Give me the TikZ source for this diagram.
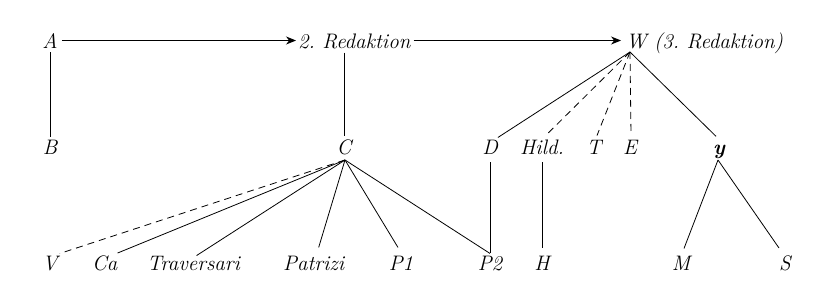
\documentclass[tikz,border=0pt]{standalone}
\usepackage{fontspec}
\usetikzlibrary{arrows.meta}
\tikzset{
  lbl/.style={font=\fontsize{21}{23}\selectfont\itshape, inner sep=0pt, anchor=base},
  lblw/.style={lbl, anchor=base west},
  conn/.style={line width=0.8pt},
  dconn/.style={line width=0.8pt, dash pattern=on 7pt off 5pt},
  arr/.style={line width=0.8pt, -{Stealth[length=10pt,width=8pt]}}
}
\begin{document}
\begin{tikzpicture}[x=1pt,y=-1pt]
\useasboundingbox (0,0) rectangle (835,297);
% top row
\node[lbl] (A) at (50,48) {A};
\node[lblw] (R2) at (298,48) {2.\ Redaktion};
\node[lblw] (W) at (626,48) {W (3.\ Redaktion)};
% middle row
\node[lbl] (B) at (50,154) {B};
\node[lbl] (C) at (344,154) {C};
\node[lbl] (D) at (490,154) {D};
\node[lblw] (Hild) at (520,154) {Hild.};
\node[lbl] (T) at (594,154) {T};
\node[lbl] (E) at (630,154) {E};
\node[lbl, font=\fontsize{21}{23}\selectfont\itshape\bfseries] (y) at (719,154) {y};
% bottom row
\node[lbl] (V) at (50,270) {V};
\node[lblw] (Ca) at (92,270) {Ca};
\node[lblw] (Trav) at (147,270) {Traversari};
\node[lblw] (Pat) at (283,270) {Patrizi};
\node[lbl] (P1) at (401,270) {P1};
\node[lbl] (P2) at (490,270) {P2};
\node[lbl] (H) at (542,270) {H};
\node[lbl] (M) at (681,270) {M};
\node[lbl] (S) at (785,270) {S};
% apex points
\coordinate (Wp) at (630,52);
\coordinate (Cp) at (345,160);
\coordinate (yp) at (718,160);
% arrows
\draw[arr, shorten <=4pt, shorten >=2pt] (A.east) -- (A.east -| R2.west);
\draw[arr, shorten <=3pt, shorten >=5pt] (R2.east |- A.east) -- (W.west |- A.east);
% verticals
\draw[conn, shorten <=4pt, shorten >=2pt] (A.south) -- (B.north);
\draw[conn] ([yshift=-4pt]C.north |- R2.south) -- ([yshift=3pt]C.north);
\draw[conn] ([yshift=-8pt]D.south) -- ([yshift=2pt]D.south |- P2.north);
\draw[conn] ([yshift=-8pt]H.north |- Hild.south) -- ([yshift=7pt]H.north);
% W fan
\draw[conn] (Wp) -- ([yshift=2pt]D.north east);
\draw[dconn] (Wp) -- ([xshift=4pt,yshift=4pt]Hild.north);
\draw[dconn] (Wp) -- ([xshift=3pt,yshift=4pt]T.north);
\draw[dconn] (Wp) -- ([xshift=1pt,yshift=4pt]E.north);
\draw[conn] (Wp) -- ([xshift=-3pt,yshift=8pt]y.north);
% C fan
\draw[dconn] (Cp) -- ([xshift=2pt,yshift=2pt]V.north east);
\draw[conn] (Cp) -- ([yshift=2pt]Ca.north east);
\draw[conn] (Cp) -- ([xshift=3pt]Trav.north);
\draw[conn] (Cp) -- ([xshift=5pt,yshift=8pt]Pat.north);
\draw[conn] (Cp) -- ([xshift=-3pt,yshift=8pt]P1.north);
\draw[conn] (Cp) -- ([yshift=2pt]P2.north);
% y fan
\draw[conn] (yp) -- ([xshift=3pt,yshift=7pt]M.north);
\draw[conn] (yp) -- ([xshift=-6pt,yshift=7pt]S.north);
\end{tikzpicture}
\end{document}
